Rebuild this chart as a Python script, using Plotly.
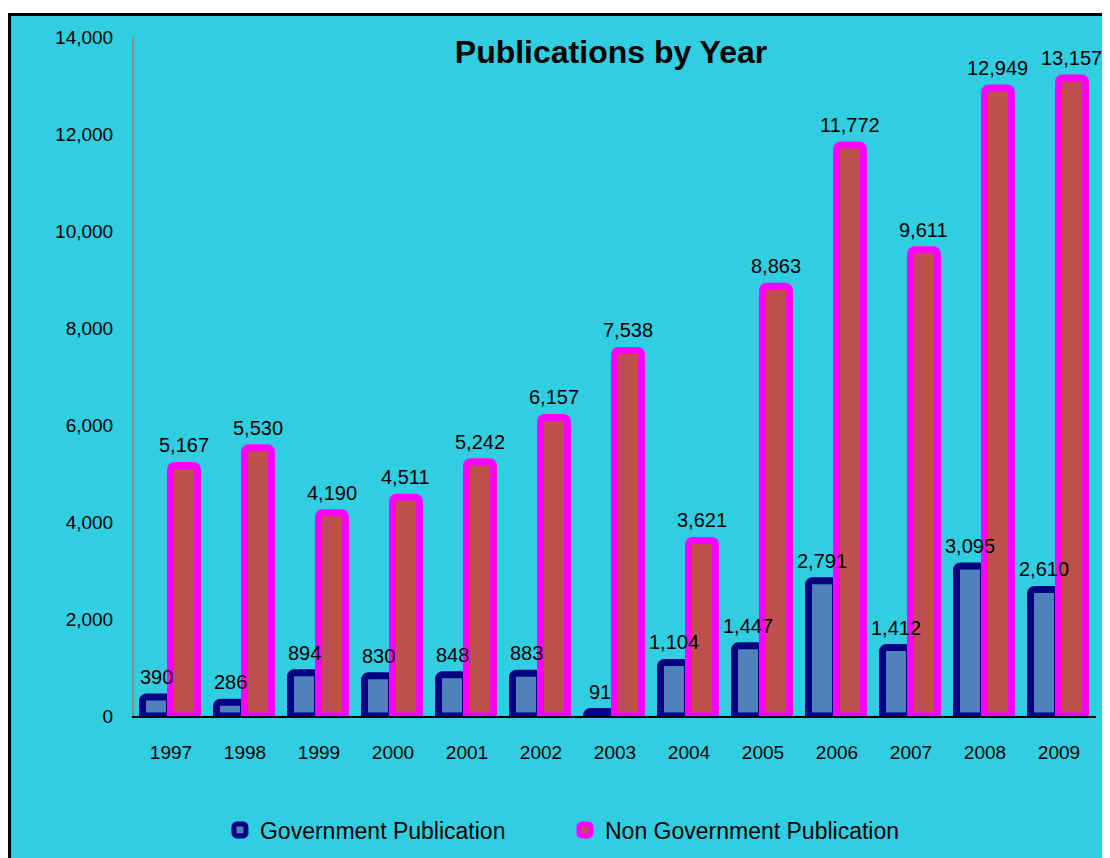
import plotly.graph_objects as go

years = ["1997", "1998", "1999", "2000", "2001", "2002", "2003",
         "2004", "2005", "2006", "2007", "2008", "2009"]
gov = [390, 286, 894, 830, 848, 883, 91, 1104, 1447, 2791, 1412, 3095, 2610]
nongov = [5167, 5530, 4190, 4511, 5242, 6157, 7538, 3621, 8863, 11772, 9611, 12949, 13157]
y_ticks = [0, 2000, 4000, 6000, 8000, 10000, 12000, 14000]

FONT = "Liberation Sans, Arial, sans-serif"
CYAN = "#31CEE2"

# figure geometry (page body adds an 8px margin)
W, H = 1102, 850
ML, MR, MT, MB = 126, 14, 29, 142
PW, PH = W - ML - MR, H - MT - MB

fig = go.Figure()
fig.add_trace(go.Bar(
    x=years, y=gov, name="Government Publication",
    offset=-0.385, width=0.365,
    marker=dict(color="#4F81BD", line=dict(color="#000080", width=7), cornerradius=4),
))
fig.add_trace(go.Bar(
    x=years, y=nongov, name="Non Government Publication",
    offset=-0.007, width=0.365,
    marker=dict(color="#C0504D", line=dict(color="#FF00FF", width=7), cornerradius=4),
))

# data labels drawn on top of all bars (x given as category index)
for xs, vals in ((-0.2025, gov), (0.1755, nongov)):
    for i, v in enumerate(vals):
        fig.add_annotation(x=i + xs, y=v, text=f"{v:,}", showarrow=False,
                           yshift=7, yanchor="bottom",
                           font=dict(family=FONT, size=20, color="black"))

# cyan chart-area box
fig.add_shape(type="rect", xref="paper", yref="paper",
              x0=(1.5 - ML) / PW, x1=(W + 20 - ML) / PW,
              y0=-(MB + 30) / PH, y1=(PH + MT - 6.5) / PH,
              fillcolor=CYAN, line=dict(color="black", width=3), layer="below")

fig.update_layout(
    width=W, height=H,
    margin=dict(l=ML, r=MR, t=MT, b=MB, autoexpand=False),
    paper_bgcolor="white", plot_bgcolor=CYAN,
    barmode="overlay",
    font=dict(family=FONT, size=19, color="black"),
    title=dict(text="<b>Publications by Year</b>", x=603 / W, xanchor="center",
               y=1 - 44 / H, yanchor="middle",
               font=dict(family=FONT, size=32, color="black")),
    showlegend=True,
    legend=dict(orientation="h", x=0.448, xanchor="center",
                yref="container", y=1 - 822 / H, yanchor="middle",
                font=dict(family=FONT, size=23, color="black"),
                bgcolor="rgba(0,0,0,0)", traceorder="normal",
                entrywidth=300, entrywidthmode="pixels"),
    xaxis=dict(type="category", range=[-0.5, len(years) - 0.5], autorange=False,
               showgrid=False, showline=True, linecolor="black",
               linewidth=2, ticks="", tickfont=dict(family=FONT, size=19),
               ticklabelstandoff=18, zeroline=False),
    yaxis=dict(range=[0, 14000], autorange=False, tickvals=y_ticks, tickformat=",",
               showgrid=False, showline=True, linecolor="#8C8C8C", linewidth=2,
               ticks="", tickfont=dict(family=FONT, size=19), zeroline=False,
               ticklabelstandoff=15),
)

fig.write_html("out.html")
